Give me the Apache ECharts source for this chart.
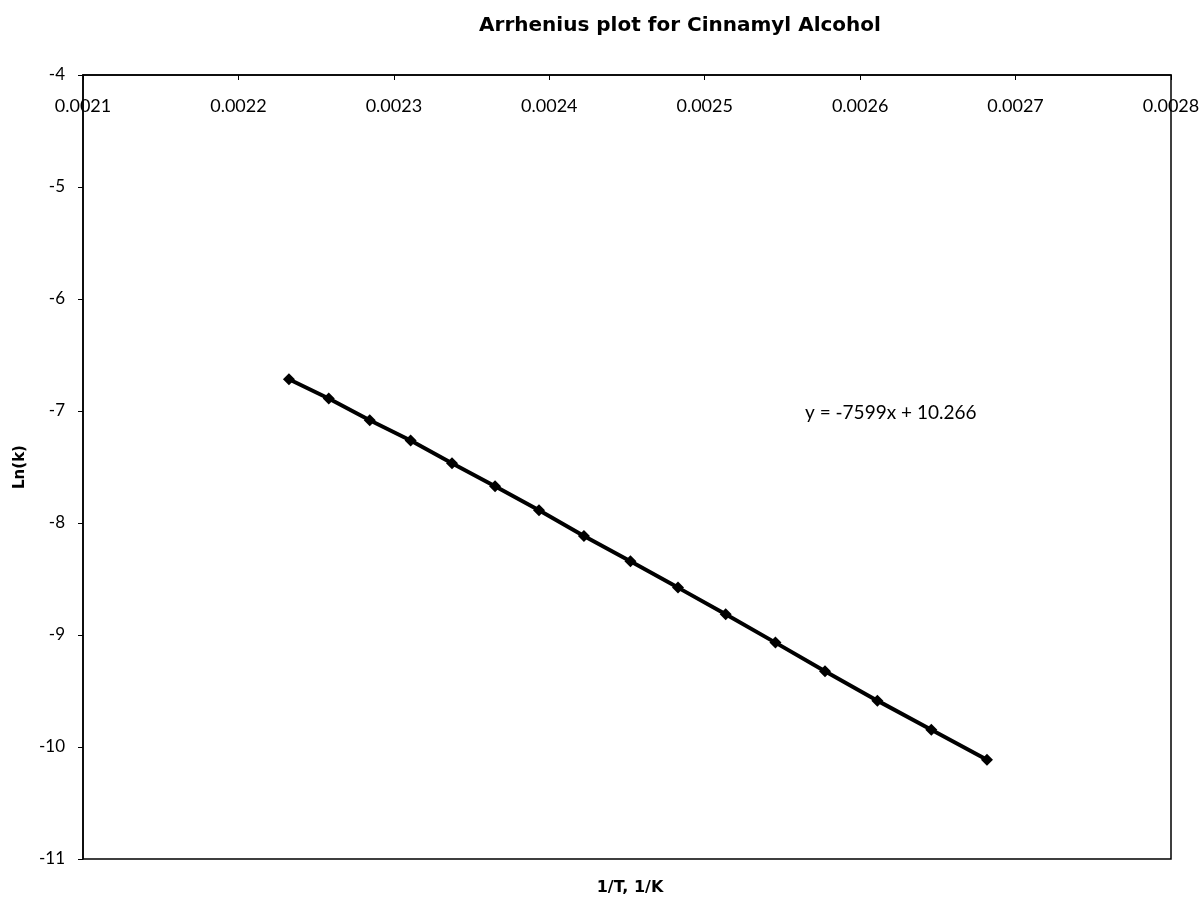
<!DOCTYPE html>
<html>
<head>
<meta charset="utf-8">
<script src="https://cdn.jsdelivr.net/npm/echarts@6/dist/echarts.min.js"></script>
<style>html,body{margin:0;padding:0;background:#fff}#c{width:1203px;height:905px}</style>
</head>
<body>
<div id="c"></div>
<script>
var invT = [0.0022325, 0.0022581, 0.0022845, 0.0023108, 0.0023374, 0.0023651, 0.0023934, 0.0024223,
            0.0024522, 0.0024828, 0.0025135, 0.0025455, 0.0025774, 0.0026111, 0.0026458, 0.0026816];
var lnK = [-6.717, -6.889, -7.083, -7.264, -7.467, -7.672, -7.887, -8.116,
           -8.342, -8.577, -8.815, -9.068, -9.324, -9.586, -9.845, -10.113];
var xTicks = [0.0021, 0.0022, 0.0023, 0.0024, 0.0025, 0.0026, 0.0027, 0.0028];
var yTicks = [-4, -5, -6, -7, -8, -9, -10, -11];
var titleText = 'Arrhenius plot for Cinnamyl Alcohol';
var eqText = 'y = -7599x + 10.266';
var xName = '1/T, 1/K';
var yName = 'Ln(k)';

var pts = invT.map(function (x, i) { return [x, lnK[i]]; });
var tickFont = 'Lato, "DejaVu Sans", sans-serif';
var boldFont = '"DejaVu Sans", sans-serif';
var chart = echarts.init(document.getElementById('c'), null, {renderer: 'canvas'});
chart.setOption({
  backgroundColor: '#fff',
  animation: false,
  title: {
    text: titleText, left: 675, top: 11, textAlign: 'center',
    textStyle: {fontFamily: boldFont, fontWeight: 'bold', fontSize: 20, color: '#000'}
  },
  grid: {left: 83, right: 32, top: 75, bottom: 46, show: true, borderColor: '#000', borderWidth: 1.5, backgroundColor: '#fff'},
  xAxis: {
    type: 'value', position: 'top', min: 0.0021, max: 0.0028, interval: 0.0001,
    axisLine: {show: true, lineStyle: {color: '#000', width: 1.5}},
    axisTick: {show: true, inside: true, length: 5, lineStyle: {color: '#000'}},
    splitLine: {show: false},
    axisLabel: {inside: true, margin: 22, color: '#000', fontSize: 18, fontFamily: tickFont,
      formatter: function (v) { return v.toFixed(4); }}
  },
  yAxis: {
    type: 'value', min: -11, max: -4, interval: 1,
    name: yName, nameLocation: 'middle', nameGap: 53,
    nameTextStyle: {fontFamily: boldFont, fontWeight: 'bold', fontSize: 15, color: '#000'},
    axisLine: {show: true, lineStyle: {color: '#000', width: 1.5}},
    axisTick: {show: true, inside: false, length: 5, lineStyle: {color: '#000'}},
    splitLine: {show: false},
    axisLabel: {margin: 18, color: '#000', fontSize: 17, fontFamily: tickFont}
  },
  graphic: [
    {type: 'text', x: 805, y: 413, style: {text: eqText, fill: '#000', fontSize: 19, fontFamily: tickFont, textVerticalAlign: 'middle'}},
    {type: 'text', x: 630, y: 888, style: {text: xName, fill: '#000', fontSize: 16, fontWeight: 'bold', fontFamily: boldFont, textAlign: 'center', textVerticalAlign: 'middle'}}
  ],
  series: [{
    type: 'line', data: pts, symbol: 'diamond', symbolSize: 12,
    lineStyle: {color: '#000', width: 4}, itemStyle: {color: '#000'}
  }]
});
</script>
</body>
</html>
